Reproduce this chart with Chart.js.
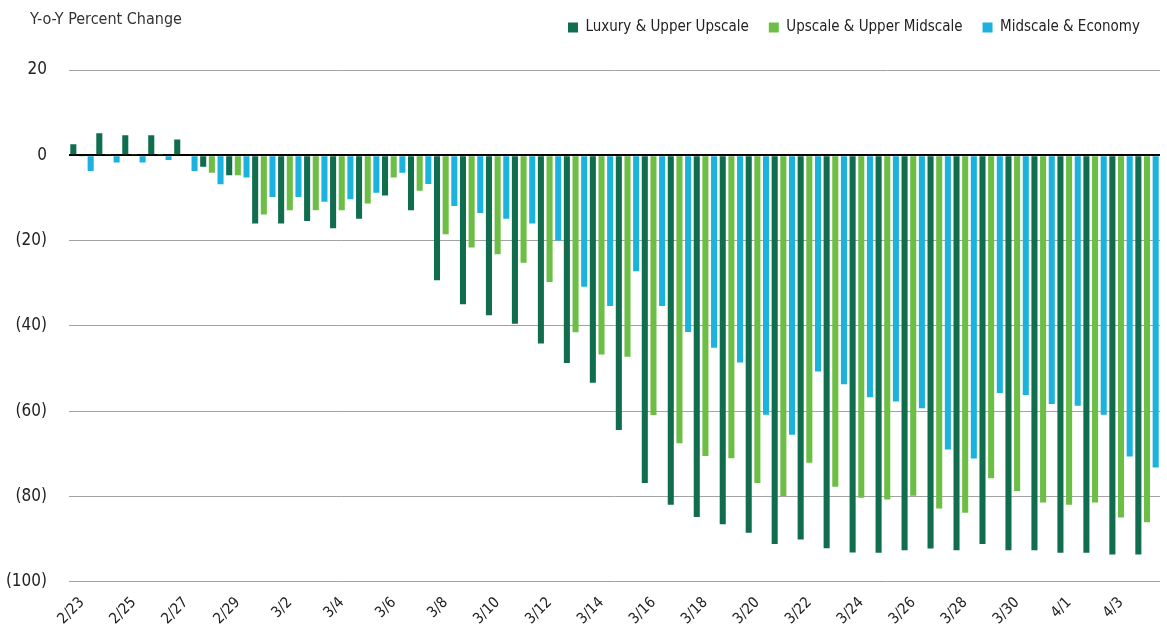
<!DOCTYPE html>
<html>
<head>
<meta charset="utf-8">
<title>Y-o-Y Percent Change</title>
<script src="https://cdn.jsdelivr.net/npm/chart.js@4"></script>
<style>
    body { margin: 0; background: #ffffff; }
    #chart-box { width: 1167px; height: 636px; position: relative; }
</style>
</head>
<body>
<div id="chart-box"><canvas id="my_chart"></canvas></div>
<script>
// dates, 2/23 through 4/4
const dates = ['2/23', '2/24', '2/25', '2/26', '2/27', '2/28', '2/29',
    '3/1', '3/2', '3/3', '3/4', '3/5', '3/6', '3/7', '3/8', '3/9', '3/10',
    '3/11', '3/12', '3/13', '3/14', '3/15', '3/16', '3/17', '3/18', '3/19', '3/20',
    '3/21', '3/22', '3/23', '3/24', '3/25', '3/26', '3/27', '3/28', '3/29', '3/30',
    '3/31', '4/1', '4/2', '4/3', '4/4'];

const luxury = [2.6, 5.2, 4.7, 4.7, 3.7, -2.7, -4.7,
    -16.0, -16.0, -15.4, -17.1, -14.9, -9.4, -12.9, -29.3, -34.9, -37.5,
    -39.5, -44.1, -48.7, -53.3, -64.4, -76.8, -81.9, -84.8, -86.5, -88.5,
    -91.1, -90.1, -92.1, -93.1, -93.2, -92.6, -92.2, -92.6, -91.1, -92.6,
    -92.6, -93.2, -93.2, -93.6, -93.6];

const upscale = [-0.3, 0.3, 0.3, 0.3, -0.2, -4.1, -4.7,
    -13.9, -12.9, -12.9, -12.9, -11.3, -5.2, -8.3, -18.5, -21.6, -23.2,
    -25.2, -29.7, -41.5, -46.7, -47.2, -60.9, -67.5, -70.5, -71.0, -76.8,
    -79.9, -72.1, -77.7, -80.3, -80.7, -79.8, -82.8, -83.8, -75.7, -78.7,
    -81.4, -81.9, -81.4, -84.9, -86.0];

const midscale = [-3.7, -1.7, -1.7, -1.1, -3.7, -6.8, -5.2,
    -9.8, -9.8, -10.9, -10.3, -8.8, -4.1, -6.7, -11.9, -13.5, -14.9,
    -16.0, -20.0, -30.8, -35.3, -27.2, -35.3, -41.4, -45.1, -48.6, -60.8,
    -65.5, -50.7, -53.7, -56.7, -57.7, -59.3, -69.0, -71.1, -55.7, -56.2,
    -58.3, -58.7, -60.8, -70.6, -73.2];

const seriesNames = ['Luxury & Upper Upscale', 'Upscale & Upper Midscale', 'Midscale & Economy'];
const yTicks = [20, 0, -20, -40, -60, -80, -100];

const FONT = "'Liberation Sans Narrow', 'DejaVu Sans Condensed', 'Roboto Condensed', sans-serif";

// draws the axis caption in the top left corner
const captionPlugin = {
    id: 'caption',
    afterDraw: function(chart) {
        let ctx = chart.ctx;
        ctx.save();
        ctx.font = '16px ' + FONT;
        ctx.fillStyle = '#333333';
        ctx.textAlign = 'left';
        ctx.textBaseline = 'middle';
        ctx.fillText('Y-o-Y Percent Change', 30, 20);
        ctx.restore();
    }
};

// leave more room under the legend
const legendGap = {
    id: 'legendGap',
    beforeInit: function(chart) {
        let fit = chart.legend.fit;
        chart.legend.fit = function() {
            fit.bind(chart.legend)();
            this.height += 25;
        };
    }
};

const data = {
    labels: dates,
    datasets: [
        { label: seriesNames[0], data: luxury, backgroundColor: '#106D4E' },
        { label: seriesNames[1], data: upscale, backgroundColor: '#6CBE45' },
        { label: seriesNames[2], data: midscale, backgroundColor: '#1BB2DE' }
    ]
};

const config = {
    type: 'bar',
    data: data,
    plugins: [captionPlugin, legendGap],
    options: {
        responsive: true,
        maintainAspectRatio: false,
        animation: false,
        layout: { padding: { left: 7, right: 7, top: 0, bottom: 4 } },
        datasets: {
            bar: { categoryPercentage: 1.0, barPercentage: 0.7 }
        },
        scales: {
            x: {
                grid: { display: false },
                border: { display: false },
                afterFit: function(scale) {
                    // rotated first label should not push the plot right
                    scale.paddingLeft = 0;
                    scale.paddingRight = 0;
                },
                ticks: {
                    autoSkip: false,
                    maxRotation: 45,
                    minRotation: 45,
                    padding: 4,
                    color: '#222222',
                    font: { family: FONT, size: 15 },
                    callback: function(value, index) {
                        return index % 2 === 0 ? dates[index] : '';
                    }
                }
            },
            y: {
                min: -100,
                max: 20,
                afterBuildTicks: function(axis) {
                    axis.ticks = yTicks.map(v => ({ value: v }));
                },
                afterFit: function(scale) {
                    scale.width = 62;
                },
                border: { display: false },
                grid: {
                    drawTicks: false,
                    color: ctx => ctx.tick && ctx.tick.value === 0 ? '#000000' : '#A3A3A3',
                    lineWidth: ctx => ctx.tick && ctx.tick.value === 0 ? 2 : 1
                },
                ticks: {
                    padding: 22,
                    color: '#222222',
                    font: { family: FONT, size: 17 },
                    callback: function(value) {
                        return value < 0 ? '(' + Math.abs(value) + ')' : String(value);
                    }
                }
            }
        },
        plugins: {
            legend: {
                position: 'top',
                align: 'end',
                labels: {
                    boxWidth: 10,
                    boxHeight: 10,
                    padding: 20,
                    color: '#222222',
                    font: { family: FONT, size: 15 }
                }
            },
            tooltip: { enabled: false }
        }
    }
};

const myChart = new Chart(document.getElementById('my_chart'), config);
</script>
</body>
</html>
